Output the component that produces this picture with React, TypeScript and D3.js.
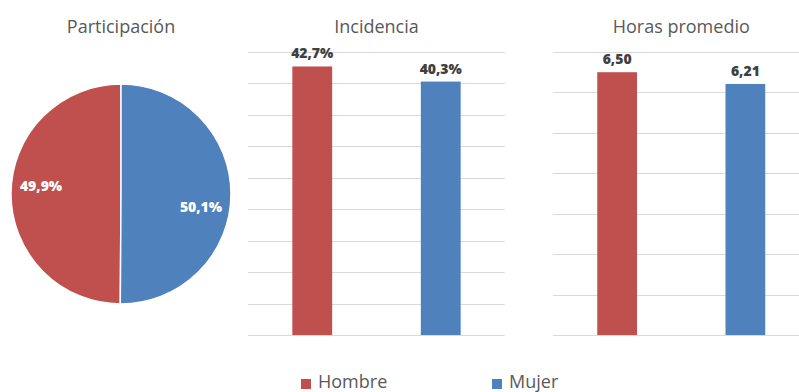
import React from "react";
import * as d3 from "d3";

const categories = ["Hombre", "Mujer"];
const colors = ["#C0504D", "#4F81BD"];
const participacion = [49.9, 50.1];
const incidencia = [42.7, 40.3];
const horas = [6.5, 6.21];
const incidenciaTicks = [0, 5, 10, 15, 20, 25, 30, 35, 40, 45];
const horasTicks = [0, 1, 2, 3, 4, 5, 6, 7];

const W = 799;
const H = 392;
const titleFont = "'Open Sans', sans-serif";
const labelFont = "'Open Sans', sans-serif";

const fmtPct = (v: number) => v.toFixed(1).replace(".", ",") + "%";
const fmtDec = (v: number) => v.toFixed(2).replace(".", ",");

function BarPanel({
  title,
  values,
  ticks,
  x0,
  x1,
  fmt,
}: {
  title: string;
  values: number[];
  ticks: number[];
  x0: number;
  x1: number;
  fmt: (v: number) => string;
}) {
  const top = 52;
  const bottom = 335;
  const y = d3
    .scaleLinear()
    .domain([0, ticks[ticks.length - 1]])
    .range([bottom, top]);
  const x = d3.scaleBand().domain(categories).range([x0, x1]).paddingInner(0.69).paddingOuter(0.345);
  return (
    <g>
      <text
        x={(x0 + x1) / 2}
        y={33}
        textAnchor="middle"
        fontFamily={titleFont}
        fontSize={18}
        fill="#595959"
      >
        {title}
      </text>
      {ticks.map((t) => (
        <line
          key={t}
          x1={x0}
          x2={x1}
          y1={Math.round(y(t)) + 0.5}
          y2={Math.round(y(t)) + 0.5}
          stroke="#D9D9D9"
          strokeWidth={1}
        />
      ))}
      {values.map((v, i) => (
        <g key={i}>
          <rect
            x={x(categories[i])!}
            y={y(v)}
            width={x.bandwidth()}
            height={bottom - y(v)}
            fill={colors[i]}
          />
          <text
            x={x(categories[i])! + x.bandwidth() / 2}
            y={y(v) - 8}
            textAnchor="middle"
            fontFamily={labelFont}
            fontWeight={800}
            fontSize={14}
            fill="#404040"
          >
            {fmt(v)}
          </text>
        </g>
      ))}
    </g>
  );
}

export default function App() {
  const cx = 121;
  const cy = 194;
  const r = 110;
  const start = (-participacion[0] / 100) * 2 * Math.PI;
  const pie = d3
    .pie<number>()
    .sort(null)
    .value((d) => d)
    .startAngle(start)
    .endAngle(start + 2 * Math.PI);
  const arcs = pie(participacion);
  const arc = d3.arc<d3.PieArcDatum<number>>().innerRadius(0).outerRadius(r);
  const labelArc = d3.arc<d3.PieArcDatum<number>>().innerRadius(80).outerRadius(80);
  const labelNudge = [-8, 13];

  return (
    <div style={{ position: "absolute", left: 0, top: 0 }}>
      <svg width={W} height={H} style={{ display: "block", background: "#fff" }}>
        <text
          x={cx}
          y={33}
          textAnchor="middle"
          fontFamily={titleFont}
          fontSize={18}
          fill="#595959"
        >
          Participación
        </text>
        <g transform={`translate(${cx},${cy})`}>
          {arcs.map((a, i) => (
            <path key={i} d={arc(a)!} fill={colors[i]} stroke="#fff" strokeWidth={1.5} />
          ))}
          {arcs.map((a, i) => {
            const [lx, ly] = labelArc.centroid(a);
            return (
              <text
                key={"l" + i}
                x={lx}
                y={ly + labelNudge[i]}
                dy="0.35em"
                textAnchor="middle"
                fontFamily={labelFont}
                fontWeight={800}
                fontSize={14}
                fill="#fff"
              >
                {fmtPct(participacion[i])}
              </text>
            );
          })}
        </g>
        <BarPanel title="Incidencia" values={incidencia} ticks={incidenciaTicks} x0={248} x1={505} fmt={fmtPct} />
        <BarPanel title="Horas promedio" values={horas} ticks={horasTicks} x0={553} x1={809.5} fmt={fmtDec} />
        <g>
          {categories.map((c, i) => {
            const lx = [301, 492][i];
            return (
              <g key={c}>
                <rect x={lx} y={379} width={10} height={10} fill={colors[i]} />
                <text
                  x={lx + 17}
                  y={388}
                  fontFamily={titleFont}
                  fontSize={18}
                  fill="#595959"
                >
                  {c}
                </text>
              </g>
            );
          })}
        </g>
      </svg>
    </div>
  );
}
